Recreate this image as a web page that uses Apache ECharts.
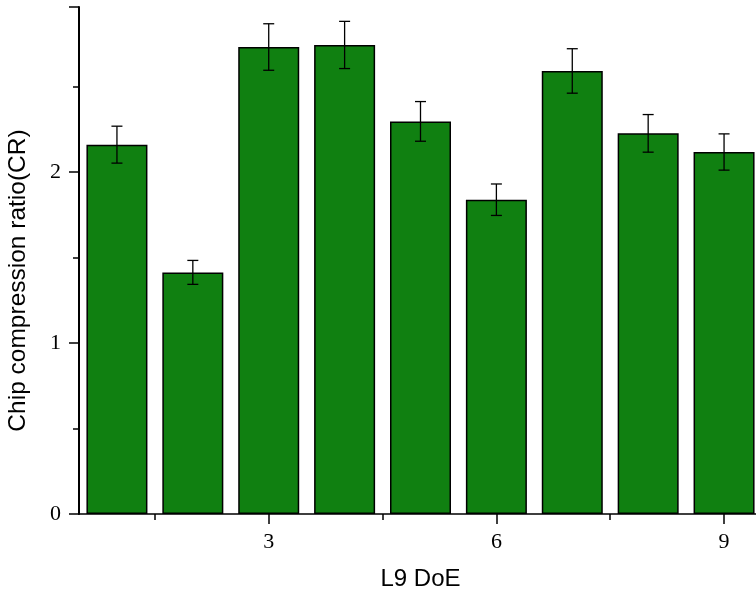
<!DOCTYPE html>
<html>
<head>
<meta charset="utf-8">
<script src="https://cdn.jsdelivr.net/npm/echarts@6/dist/echarts.min.js"></script>
<style>
html,body{margin:0;padding:0;background:#fff;}
#chart{width:756px;height:594px;}
</style>
</head>
<body>
<div id="chart"></div>
<script>
const runs = [1, 2, 3, 4, 5, 6, 7, 8, 9];
const crValues = [2.160, 1.413, 2.731, 2.743, 2.296, 1.838, 2.591, 2.226, 2.117];
const crErrors = [0.108, 0.070, 0.136, 0.138, 0.116, 0.092, 0.130, 0.110, 0.106];
const xMajorTicks = [3, 6, 9];
const xMinorTicks = [1.5, 4.5, 7.5];
const xTitle = 'L9 DoE';
const yTitle = 'Chip compression ratio(CR)';

const barData = runs.map((r, i) => [r, crValues[i]]);
const errData = runs.map((r, i) => [r, crValues[i] - crErrors[i], crValues[i] + crErrors[i]]);

const chart = echarts.init(document.getElementById('chart'), null, {renderer: 'canvas'});
const serif = '"Liberation Serif", "Times New Roman", serif';
const sans = '"Liberation Sans", Arial, sans-serif';

chart.setOption({
  backgroundColor: '#ffffff',
  animation: false,
  grid: {left: 79, top: 7, width: 683, height: 507, containLabel: false, outerBoundsMode: 'none'},
  xAxis: [{
    type: 'value', min: 0.5, max: 9.5,
    name: xTitle, nameLocation: 'middle', nameGap: 53,
    nameTextStyle: {fontFamily: sans, fontSize: 24, color: '#000'},
    axisLine: {show: true, lineStyle: {color: '#000', width: 1.5}},
    axisTick: {show: true, customValues: xMajorTicks, length: 10, lineStyle: {color: '#000', width: 1.5}},
    axisLabel: {show: true, customValues: xMajorTicks, margin: 17, fontFamily: serif, fontSize: 22, color: '#000'},
    splitLine: {show: false}
  }, {
    type: 'value', min: 0.5, max: 9.5, position: 'bottom',
    axisLine: {show: false},
    axisTick: {show: true, customValues: xMinorTicks, length: 6, lineStyle: {color: '#000', width: 1.5}},
    axisLabel: {show: false},
    splitLine: {show: false}
  }],
  yAxis: {
    type: 'value', min: 0, max: 2.965, interval: 1,
    name: yTitle, nameLocation: 'middle', nameGap: 48,
    nameTextStyle: {fontFamily: sans, fontSize: 24.5, color: '#000', padding: [0, 40, 0, 0]},
    axisLine: {show: true, lineStyle: {color: '#000', width: 2}},
    axisTick: {show: true, length: 10, lineStyle: {color: '#000', width: 1.5}},
    minorTick: {show: true, splitNumber: 2, length: 6, lineStyle: {color: '#000', width: 1.5}},
    axisLabel: {margin: 18, fontFamily: serif, fontSize: 22, color: '#000', showMaxLabel: false},
    splitLine: {show: false}
  },
  series: [{
    type: 'bar',
    xAxisIndex: 0,
    data: barData,
    barWidth: 61,
    itemStyle: {color: '#108011', borderColor: '#000', borderWidth: 1.5},
    z: 2
  }, {
    type: 'custom',
    xAxisIndex: 0,
    data: errData,
    z: 3,
    renderItem: function (params, api) {
      const x = api.value(0);
      const lo = api.coord([x, api.value(1)]);
      const hi = api.coord([x, api.value(2)]);
      const hw = 5.5;
      const st = {stroke: '#000', lineWidth: 1.3};
      return {
        type: 'group',
        children: [
          {type: 'line', shape: {x1: lo[0], y1: lo[1], x2: hi[0], y2: hi[1]}, style: st},
          {type: 'line', shape: {x1: hi[0] - hw, y1: hi[1], x2: hi[0] + hw, y2: hi[1]}, style: st},
          {type: 'line', shape: {x1: lo[0] - hw, y1: lo[1], x2: lo[0] + hw, y2: lo[1]}, style: st}
        ]
      };
    }
  }]
});
</script>
</body>
</html>
